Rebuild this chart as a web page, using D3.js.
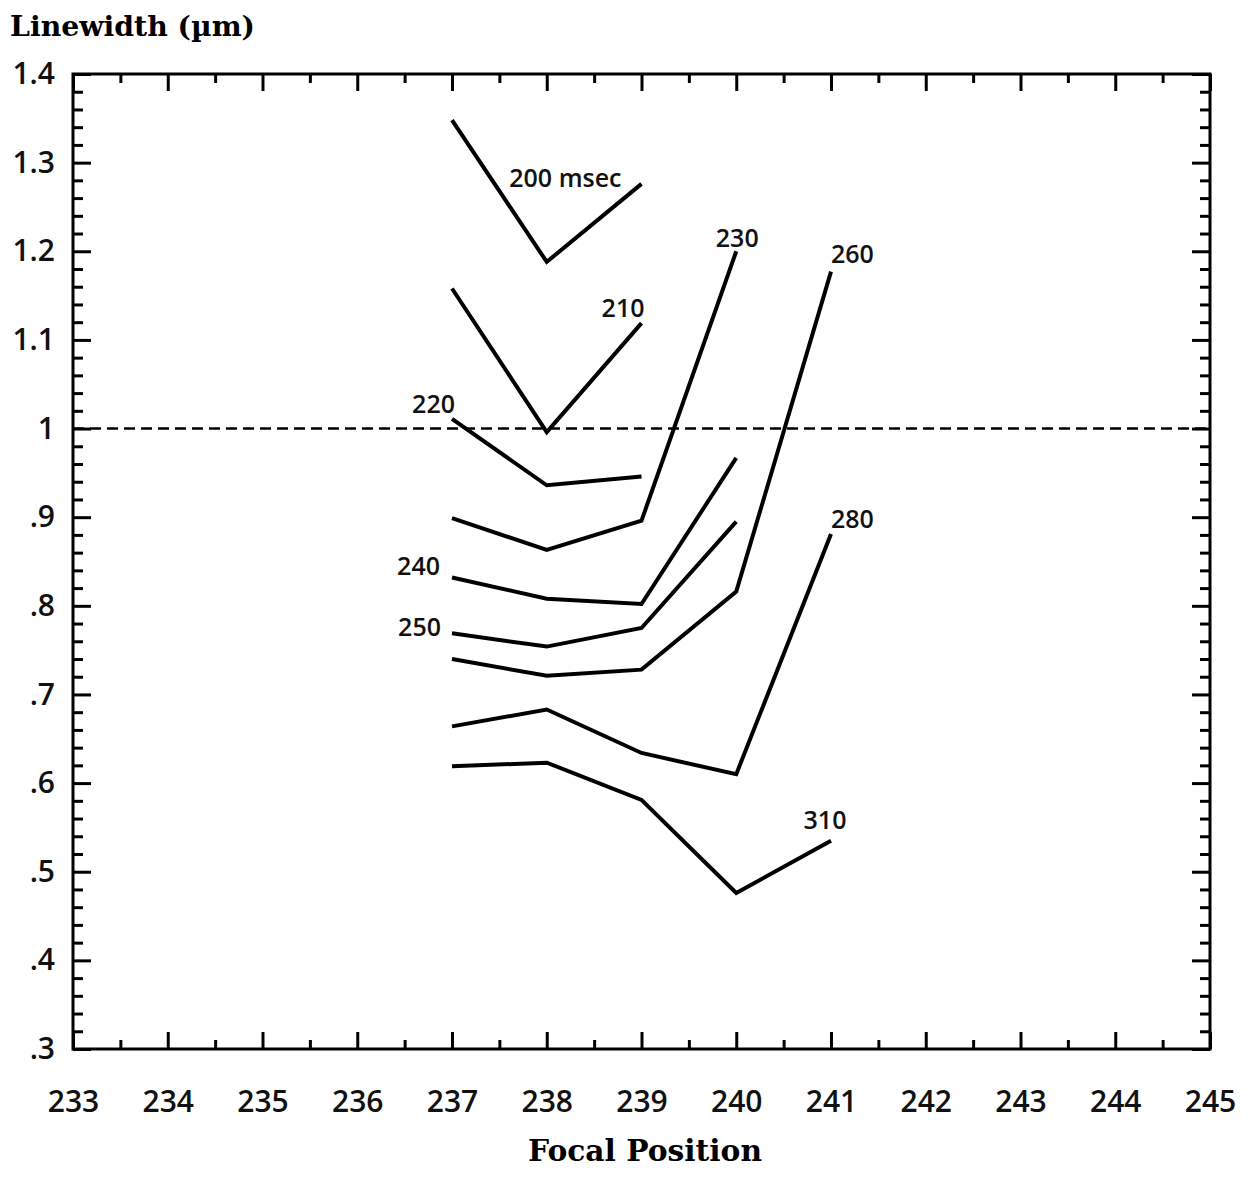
<!DOCTYPE html>
<html>
<head>
<meta charset="utf-8">
<script src="https://cdn.jsdelivr.net/npm/d3@7"></script>
<style>
  html, body { margin: 0; padding: 0; background: #fff; }
  svg { display: block; }
</style>
</head>
<body>
<svg id="chart" width="1249" height="1193"></svg>
<script>
// ---------- data ----------
const focalPositions = [237, 238, 239, 240, 241];
const seriesNames = ["200", "210", "220", "230", "240", "250", "260", "280", "310"];
const s200 = [1.348, 1.188, 1.276];
const s210 = [1.158, 0.996, 1.119];
const s220 = [1.011, 0.936, 0.946];
const s230 = [0.899, 0.863, 0.896, 1.200];
const s240 = [0.832, 0.808, 0.802, 0.967];
const s250 = [0.769, 0.754, 0.775, 0.895];
const s260 = [0.740, 0.721, 0.728, 0.816, 1.177];
const s280 = [0.664, 0.683, 0.634, 0.610, 0.881];
const s310 = [0.619, 0.623, 0.581, 0.476, 0.535];
const seriesLabels = ["200 msec", "210", "220", "230", "240", "250", "260", "280", "310"];
const xTickValues = [233, 234, 235, 236, 237, 238, 239, 240, 241, 242, 243, 244, 245];
const yTickValues = [1.4, 1.3, 1.2, 1.1, 1.0, 0.9, 0.8, 0.7, 0.6, 0.5, 0.4, 0.3];
const yTickLabels = ["1.4", "1.3", "1.2", "1.1", "1", ".9", ".8", ".7", ".6", ".5", ".4", ".3"];
const referenceLine = 1.0;
const xTitle = "Focal Position";
const yTitle = "Linewidth (\u00b5m)";

const seriesValues = [s200, s210, s220, s230, s240, s250, s260, s280, s310];

// ---------- layout ----------
const L = 73, R = 1210, T = 74, B = 1049;
const svg = d3.select("#chart");
const x = d3.scaleLinear().domain([233, 245]).range([L, R]);
const y = d3.scaleLinear().domain([0.3, 1.4]).range([B, T]);

const tickFont = "'Open Sans', 'Noto Sans', sans-serif";
const titleFont = "'DejaVu Serif', 'Liberation Serif', serif";

// minor tick values
const xMinor = d3.range(233.5, 245, 1);
const yMinor = d3.range(0, 56).map(i => +(0.3 + i * 0.02).toFixed(2)).filter(v => Math.abs(v * 10 - Math.round(v * 10)) > 1e-6);

function styleAxis(g) {
  g.select(".domain").remove();
  g.selectAll(".tick line").attr("stroke", "#000").attr("stroke-width", 3);
  g.selectAll("text").attr("font-family", tickFont).attr("font-size", 30)
    .attr("font-weight", 600).attr("fill", "#111");
}

// bottom axis (major with labels)
svg.append("g").attr("transform", `translate(0,${B})`)
  .call(d3.axisBottom(x).tickValues(xTickValues).tickSizeInner(-17).tickSizeOuter(0).tickPadding(42).tickFormat(d3.format("d")))
  .call(styleAxis);
svg.append("g").attr("transform", `translate(0,${B})`)
  .call(d3.axisBottom(x).tickValues(xMinor).tickSizeInner(-9).tickSizeOuter(0).tickFormat(""))
  .call(styleAxis);
// top axis
svg.append("g").attr("transform", `translate(0,${T})`)
  .call(d3.axisTop(x).tickValues(xTickValues).tickSizeInner(-17).tickSizeOuter(0).tickFormat(""))
  .call(styleAxis);
svg.append("g").attr("transform", `translate(0,${T})`)
  .call(d3.axisTop(x).tickValues(xMinor).tickSizeInner(-9).tickSizeOuter(0).tickFormat(""))
  .call(styleAxis);
// left axis
svg.append("g").attr("transform", `translate(${L},0)`)
  .call(d3.axisLeft(y).tickValues(yTickValues).tickSizeInner(-18).tickSizeOuter(0).tickPadding(18)
    .tickFormat((d, i) => yTickLabels[i]))
  .call(styleAxis);
svg.append("g").attr("transform", `translate(${L},0)`)
  .call(d3.axisLeft(y).tickValues(yMinor).tickSizeInner(-10).tickSizeOuter(0).tickFormat(""))
  .call(styleAxis);
// right axis
svg.append("g").attr("transform", `translate(${R},0)`)
  .call(d3.axisRight(y).tickValues(yTickValues).tickSizeInner(-18).tickSizeOuter(0).tickFormat(""))
  .call(styleAxis);
svg.append("g").attr("transform", `translate(${R},0)`)
  .call(d3.axisRight(y).tickValues(yMinor).tickSizeInner(-10).tickSizeOuter(0).tickFormat(""))
  .call(styleAxis);

// frame
svg.append("rect").attr("x", L).attr("y", T).attr("width", R - L).attr("height", B - T)
  .attr("fill", "none").attr("stroke", "#000").attr("stroke-width", 3);

// dashed reference line
svg.append("line")
  .attr("x1", L).attr("x2", R).attr("y1", y(referenceLine)).attr("y2", y(referenceLine))
  .attr("stroke", "#000").attr("stroke-width", 2.5).attr("stroke-dasharray", "11,6");

// series lines
const line = d3.line().x((d, i) => x(focalPositions[i])).y(d => y(d));
svg.append("g").selectAll("path").data(seriesValues).join("path")
  .attr("d", d => line(d))
  .attr("fill", "none").attr("stroke", "#000").attr("stroke-width", 4)
  .attr("stroke-linejoin", "miter").attr("stroke-linecap", "butt");

// series labels (anchored to a data point of their series, with pixel offsets)
const labelPlacement = {
  "200": { pt: "last", dx: -20, dy: 3, anchor: "end" },
  "210": { pt: "last", dx: 3, dy: -6, anchor: "end" },
  "220": { pt: "first", dx: 3, dy: -6, anchor: "end" },
  "230": { pt: "last", dx: 1, dy: -4, anchor: "middle" },
  "240": { pt: "first", dx: -12, dy: -2, anchor: "end" },
  "250": { pt: "first", dx: -11, dy: 3, anchor: "end" },
  "260": { pt: "last", dx: 0, dy: -9, anchor: "start" },
  "280": { pt: "last", dx: 0, dy: -6, anchor: "start" },
  "310": { pt: "last", dx: -6, dy: -12, anchor: "middle" }
};
seriesNames.forEach((name, si) => {
  const vals = seriesValues[si];
  const p = labelPlacement[name];
  const idx = p.pt === "first" ? 0 : vals.length - 1;
  svg.append("text")
    .attr("x", x(focalPositions[idx]) + p.dx)
    .attr("y", y(vals[idx]) + p.dy)
    .attr("text-anchor", p.anchor)
    .attr("font-family", tickFont).attr("font-size", 25).attr("font-weight", 600).attr("fill", "#111")
    .text(seriesLabels[si]);
});

// titles
svg.append("text").attr("x", 10).attr("y", 36)
  .attr("font-family", titleFont).attr("font-weight", "bold").attr("font-size", 28).attr("fill", "#000")
  .attr("textLength", 245).attr("lengthAdjust", "spacingAndGlyphs")
  .text(yTitle);
svg.append("text").attr("x", 528).attr("y", 1161)
  .attr("font-family", titleFont).attr("font-weight", "bold").attr("font-size", 30).attr("fill", "#000")
  .attr("textLength", 234).attr("lengthAdjust", "spacingAndGlyphs")
  .text(xTitle);
</script>
</body>
</html>
